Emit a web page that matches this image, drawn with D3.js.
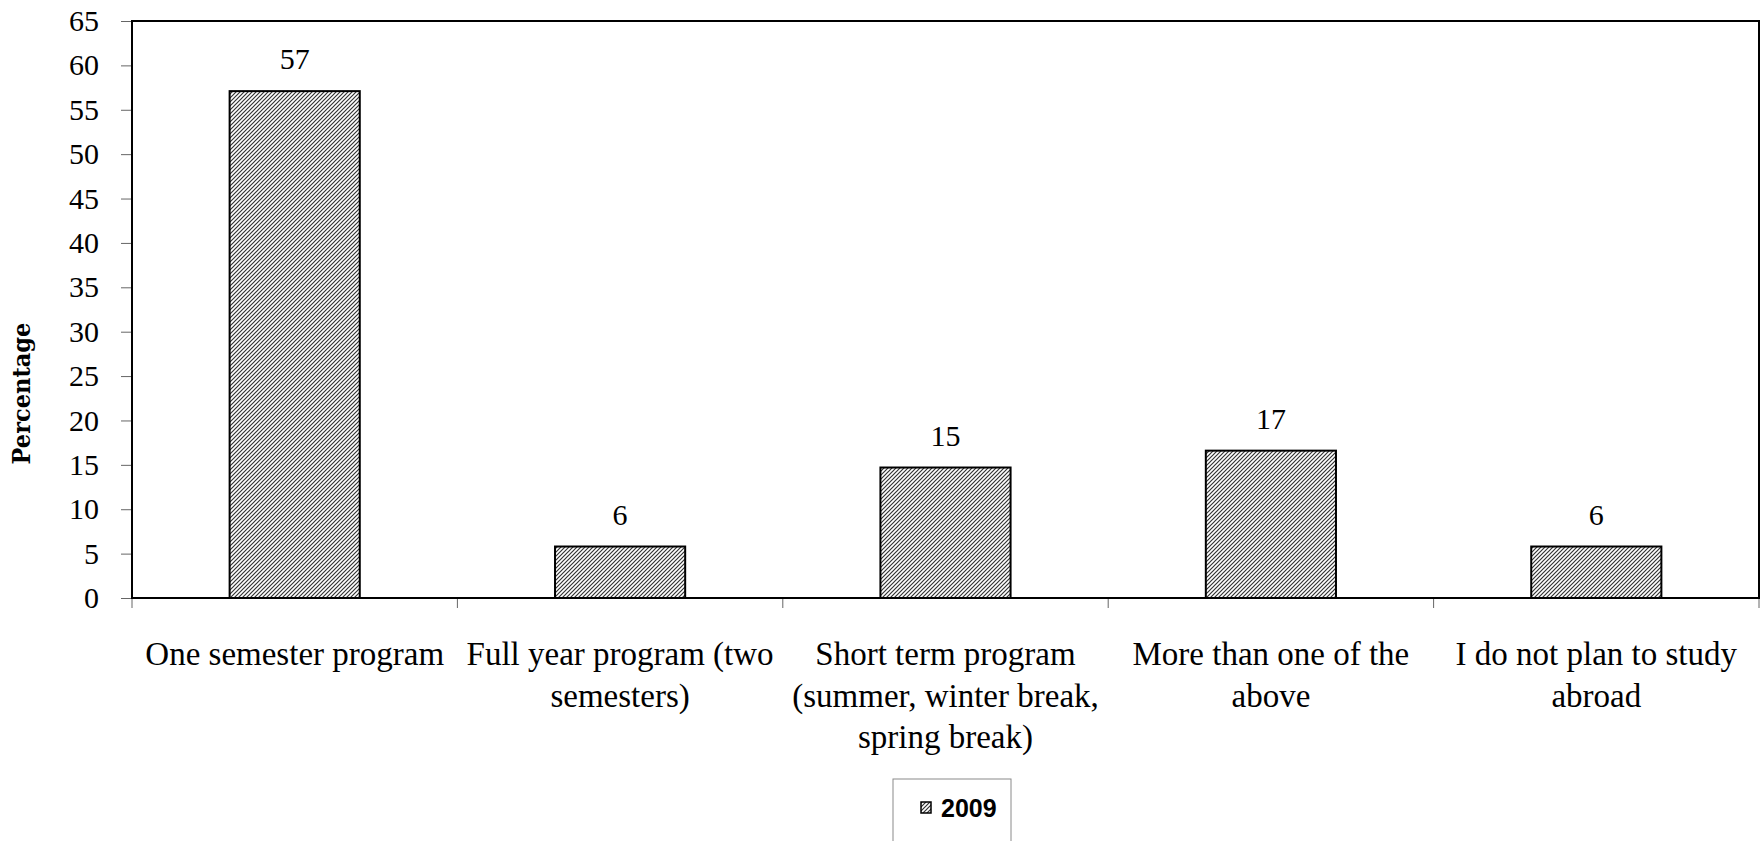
<!DOCTYPE html>
<html>
<head>
<meta charset="utf-8">
<script src="https://cdn.jsdelivr.net/npm/d3@7"></script>
<style>
  body { margin: 0; background: #fff; }
  svg { display: block; }
</style>
</head>
<body>
<div id="chart"></div>
<script>
  // chart data
  var categories = [
    "One semester program",
    "Full year program (two\nsemesters)",
    "Short term program\n(summer, winter break,\nspring break)",
    "More than one of the\nabove",
    "I do not plan to study\nabroad"
  ];
  var values2009 = [57.1, 5.8, 14.7, 16.6, 5.8];
  var yTicks = [0, 5, 10, 15, 20, 25, 30, 35, 40, 45, 50, 55, 60, 65];
  var seriesName = "2009";
  var yTitle = "Percentage";

  var width = 1764, height = 841;
  var margin = {left: 132, top: 21, right: 5, bottom: 243};
  var serif = "'Liberation Serif', 'Times New Roman', serif";

  var svg = d3.select("#chart").append("svg")
      .attr("width", width)
      .attr("height", height);

  // diagonal hatch used for the bars and the legend swatch
  var pattern = svg.append("defs").append("pattern")
      .attr("id", "hatch")
      .attr("patternUnits", "userSpaceOnUse")
      .attr("width", 4)
      .attr("height", 4);
  pattern.append("rect").attr("width", 4).attr("height", 4).attr("fill", "#fff");
  pattern.append("path")
      .attr("d", "M-1,1 l2,-2 M0,4 l4,-4 M3,5 l2,-2")
      .attr("stroke", "#333")
      .attr("stroke-width", 1.2);

  var x = d3.scaleBand()
      .domain(categories)
      .range([margin.left, width - margin.right])
      .paddingInner(0.6)
      .paddingOuter(0.3);

  var y = d3.scaleLinear()
      .domain([0, 65])
      .range([height - margin.bottom, margin.top]);

  // y axis
  var yAxis = svg.append("g")
      .attr("transform", "translate(" + margin.left + ",0)")
      .call(d3.axisLeft(y).tickValues(yTicks).tickSize(11).tickPadding(22));
  yAxis.select(".domain").remove();
  yAxis.selectAll(".tick line").attr("stroke", "#666").attr("stroke-width", 1);
  yAxis.selectAll(".tick text")
      .attr("fill", "#000")
      .style("font-family", serif)
      .style("font-size", "30px");

  // category boundary ticks under the x axis
  var step = x.step();
  var bounds = categories.map(function(c){ return x(c) - step * x.paddingOuter(); });
  bounds.push(x.range()[1]);
  svg.append("g").selectAll("line")
    .data(bounds)
    .enter().append("line")
      .attr("x1", function(d){ return d; })
      .attr("x2", function(d){ return d; })
      .attr("y1", y(0))
      .attr("y2", y(0) + 10)
      .attr("stroke", "#666")
      .attr("stroke-width", 1);

  // bars
  svg.append("g").selectAll("rect")
    .data(values2009)
    .enter().append("rect")
      .attr("x", function(d, i){ return x(categories[i]); })
      .attr("y", function(d){ return y(d); })
      .attr("width", x.bandwidth())
      .attr("height", function(d){ return y(0) - y(d); })
      .attr("fill", "url(#hatch)")
      .attr("stroke", "#000")
      .attr("stroke-width", 2);

  // value labels
  var fmt = d3.format(".0f");
  svg.append("g").selectAll("text")
    .data(values2009)
    .enter().append("text")
      .attr("x", function(d, i){ return x(categories[i]) + x.bandwidth() / 2; })
      .attr("y", function(d){ return y(d) - 22; })
      .attr("text-anchor", "middle")
      .style("font-family", serif)
      .style("font-size", "30px")
      .text(function(d){ return fmt(d); });

  // plot frame
  svg.append("rect")
      .attr("x", margin.left)
      .attr("y", margin.top)
      .attr("width", width - margin.right - margin.left)
      .attr("height", y(0) - margin.top)
      .attr("fill", "none")
      .attr("stroke", "#000")
      .attr("stroke-width", 2);

  // category labels, one tspan per line
  var catText = svg.append("g").selectAll("text")
    .data(categories)
    .enter().append("text")
      .attr("text-anchor", "middle")
      .attr("transform", function(d){
        return "translate(" + (x(d) + x.bandwidth() / 2) + "," + (y(0) + 67) + ")";
      })
      .style("font-family", serif)
      .style("font-size", "33px");
  catText.selectAll("tspan")
    .data(function(d){ return d.split("\n"); })
    .enter().append("tspan")
      .attr("x", 0)
      .attr("y", function(d, i){ return i * 41.5; })
      .text(function(d){ return d; });

  // y axis title
  svg.append("text")
      .attr("transform", "translate(30," + ((margin.top + y(0)) / 2 + 84) + ") rotate(-90)")
      .attr("text-anchor", "middle")
      .style("font-family", "'DejaVu Serif', serif")
      .style("font-stretch", "condensed")
      .style("font-weight", "bold")
      .style("font-size", "25px")
      .text(yTitle);

  // legend
  var legend = svg.append("g").attr("transform", "translate(893,779)");
  legend.append("rect")
      .attr("width", 118)
      .attr("height", 80)
      .attr("fill", "#fff")
      .attr("stroke", "#8a8a8a")
      .attr("stroke-width", 1);
  legend.append("rect")
      .attr("x", 28)
      .attr("y", 23)
      .attr("width", 10)
      .attr("height", 11)
      .attr("fill", "url(#hatch)")
      .attr("stroke", "#000")
      .attr("stroke-width", 1.5);
  legend.append("text")
      .attr("x", 48)
      .attr("y", 38)
      .style("font-family", "'Liberation Sans Narrow', 'Liberation Sans', Arial, sans-serif")
      .style("font-weight", "bold")
      .style("font-size", "25px")
      .text(seriesName);
</script>
</body>
</html>
